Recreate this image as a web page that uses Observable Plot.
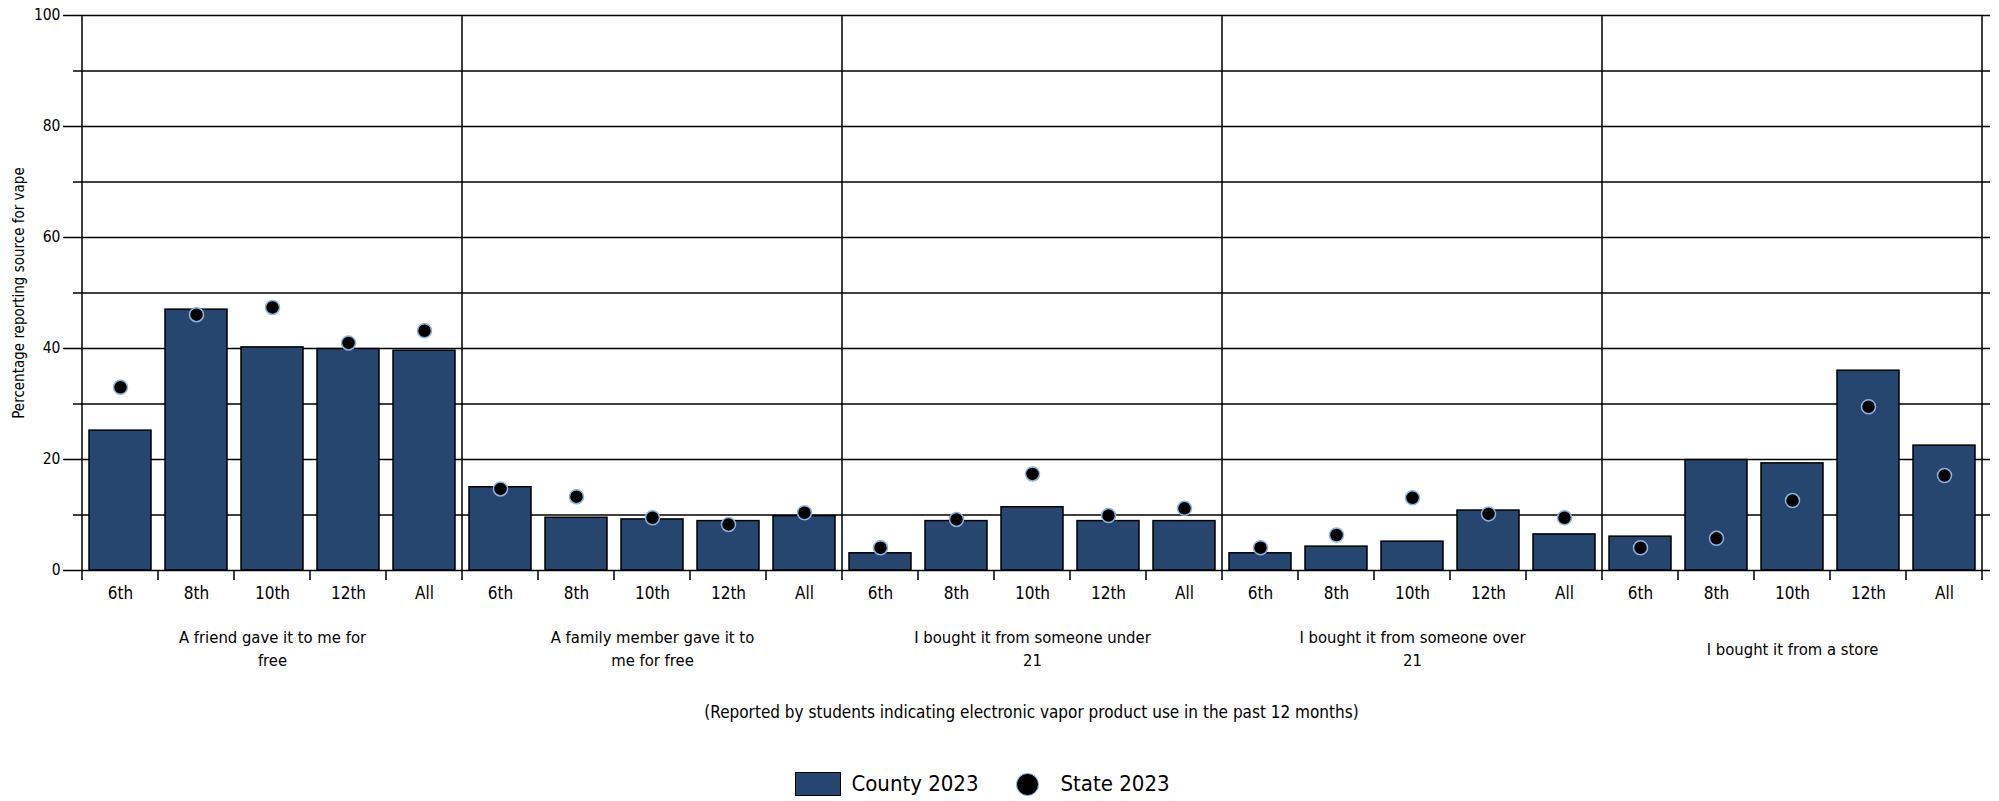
<!DOCTYPE html>
<html>
<head>
<meta charset="utf-8">
<script src="https://cdn.jsdelivr.net/npm/d3@7"></script>
<script src="https://cdn.jsdelivr.net/npm/@observablehq/plot@0.6"></script>
<style>
  body { margin: 0; background: #fff; color: #000; font-family: "DejaVu Sans Condensed", "Liberation Sans Narrow", sans-serif; }
  #chart svg { display: block; }
  #caption { padding: 0 9px 0 73px; text-align: center; font-size: 17px; line-height: 24px; margin-top: 20px; }
  #legend { display: flex; justify-content: center; align-items: center; padding-right: 34px; margin-top: 45px; font-size: 22px; line-height: 30px; }
  #legend .sw { width: 44px; height: 22px; background: #264670; border: 1.5px solid #000; margin-right: 10px; }
  #legend .dt { width: 21px; height: 21px; border-radius: 50%; background: #000; border: 1.5px solid #8fb3dc; margin-left: 37px; margin-right: 22px; }
</style>
</head>
<body>
<div id="chart"></div>
<div id="caption"></div>
<div id="legend"></div>
<script>
// ---- data ----
const sources = [
  "A friend gave it to me for free",
  "A family member gave it to me for free",
  "I bought it from someone under 21",
  "I bought it from someone over 21",
  "I bought it from a store"
];
const sourceLabels = [
  "A friend gave it to me for\nfree",
  "A family member gave it to\nme for free",
  "I bought it from someone under\n21",
  "I bought it from someone over\n21",
  "I bought it from a store"
];
const grades = ["6th", "8th", "10th", "12th", "All"];
const county2023 = [
  [25.2, 47.0, 40.2, 39.9, 39.6],
  [15.0, 9.5, 9.2, 8.9, 9.8],
  [3.1, 8.9, 11.4, 8.9, 8.9],
  [3.1, 4.3, 5.2, 10.8, 6.5],
  [6.1, 19.9, 19.3, 36.0, 22.5]
];
const state2023 = [
  [33.0, 46.1, 47.4, 41.0, 43.2],
  [14.7, 13.3, 9.5, 8.3, 10.4],
  [4.1, 9.2, 17.4, 9.9, 11.2],
  [4.1, 6.4, 13.1, 10.2, 9.5],
  [4.1, 5.8, 12.6, 29.5, 17.1]
];
const yTicks = [0, 20, 40, 60, 80, 100];
const gridLines = [10, 20, 30, 40, 50, 60, 70, 80, 90, 100];
const seriesNames = ["County 2023", "State 2023"];
const yLabel = "Percentage reporting source for vape";
const captionText = "(Reported by students indicating electronic vapor product use in the past 12 months)";

// ---- table ----
const rows = sources.flatMap((s, i) => grades.map((g, j) => ({
  key: `${s}|${g}`, source: s, grade: g, county: county2023[i][j], state: state2023[i][j]
})));

const barColor = "#264670";

function boundaryTicks(index, scales, values, dimensions) {
  const x = scales.x, y = scales.y;
  const dom = x.domain();
  const bw = x.bandwidth();
  const step = x.step();
  const half = (step - bw) / 2;
  const y0 = y(0);
  const top = dimensions.marginTop;
  const g = d3.create("svg:g").attr("stroke", "#000").attr("stroke-width", 1.5);
  for (let i = 0; i <= dom.length; i++) {
    const xi = i < dom.length ? x(dom[i]) - half : x(dom[dom.length - 1]) + bw + half;
    g.append("line")
      .attr("x1", xi).attr("x2", xi)
      .attr("y1", i % grades.length === 0 ? top : y0)
      .attr("y2", y0 + 10);
  }
  return g.node();
}

const chart = Plot.plot({
  width: 1999,
  height: 680,
  marginTop: 15,
  marginBottom: 110,
  marginLeft: 73,
  marginRight: 9,
  style: { fontFamily: '"DejaVu Sans Condensed", "Liberation Sans Narrow", sans-serif', fontSize: "16px", color: "#000", background: "#fff" },
  x: { domain: rows.map(d => d.key), paddingInner: 0.19, paddingOuter: 0.095 },
  y: { domain: [0, 100] },
  marks: [
    Plot.ruleY(gridLines, { stroke: "#000", strokeWidth: 1.5 }),
    Plot.barY(rows, { x: "key", y: "county", fill: barColor, stroke: "#000", strokeWidth: 1.5 }),
    Plot.ruleY([0], { stroke: "#000", strokeWidth: 1.5 }),
    boundaryTicks,
    Plot.dot(rows, { x: "key", y: "state", r: 7, fill: "#000", stroke: "#8fb3dc", strokeWidth: 1.5 }),
    Plot.axisY({ ticks: yTicks, tickSize: 10, tickPadding: 3, fontSize: 15.5, label: null, strokeWidth: 1.5 }),
    Plot.axisX({ tickSize: 0, tickPadding: 16, fontSize: 17, label: null, tickFormat: k => k.split("|")[1] }),
    Plot.text(sources, { x: s => `${s}|10th`, text: (s, i) => sourceLabels[i], frameAnchor: "bottom", dy: 77, lineAnchor: "middle", fontSize: 16.5, lineHeight: 1.39 }),
    Plot.text([yLabel], { frameAnchor: "left", textAnchor: "middle", dx: -54, rotate: -90, fontSize: 15, text: d => d })
  ]
});
document.getElementById("chart").append(chart);

document.getElementById("caption").textContent = captionText;
const legend = document.getElementById("legend");
legend.innerHTML = `<span class="sw"></span><span>${seriesNames[0]}</span><span class="dt"></span><span>${seriesNames[1]}</span>`;
</script>
</body>
</html>
